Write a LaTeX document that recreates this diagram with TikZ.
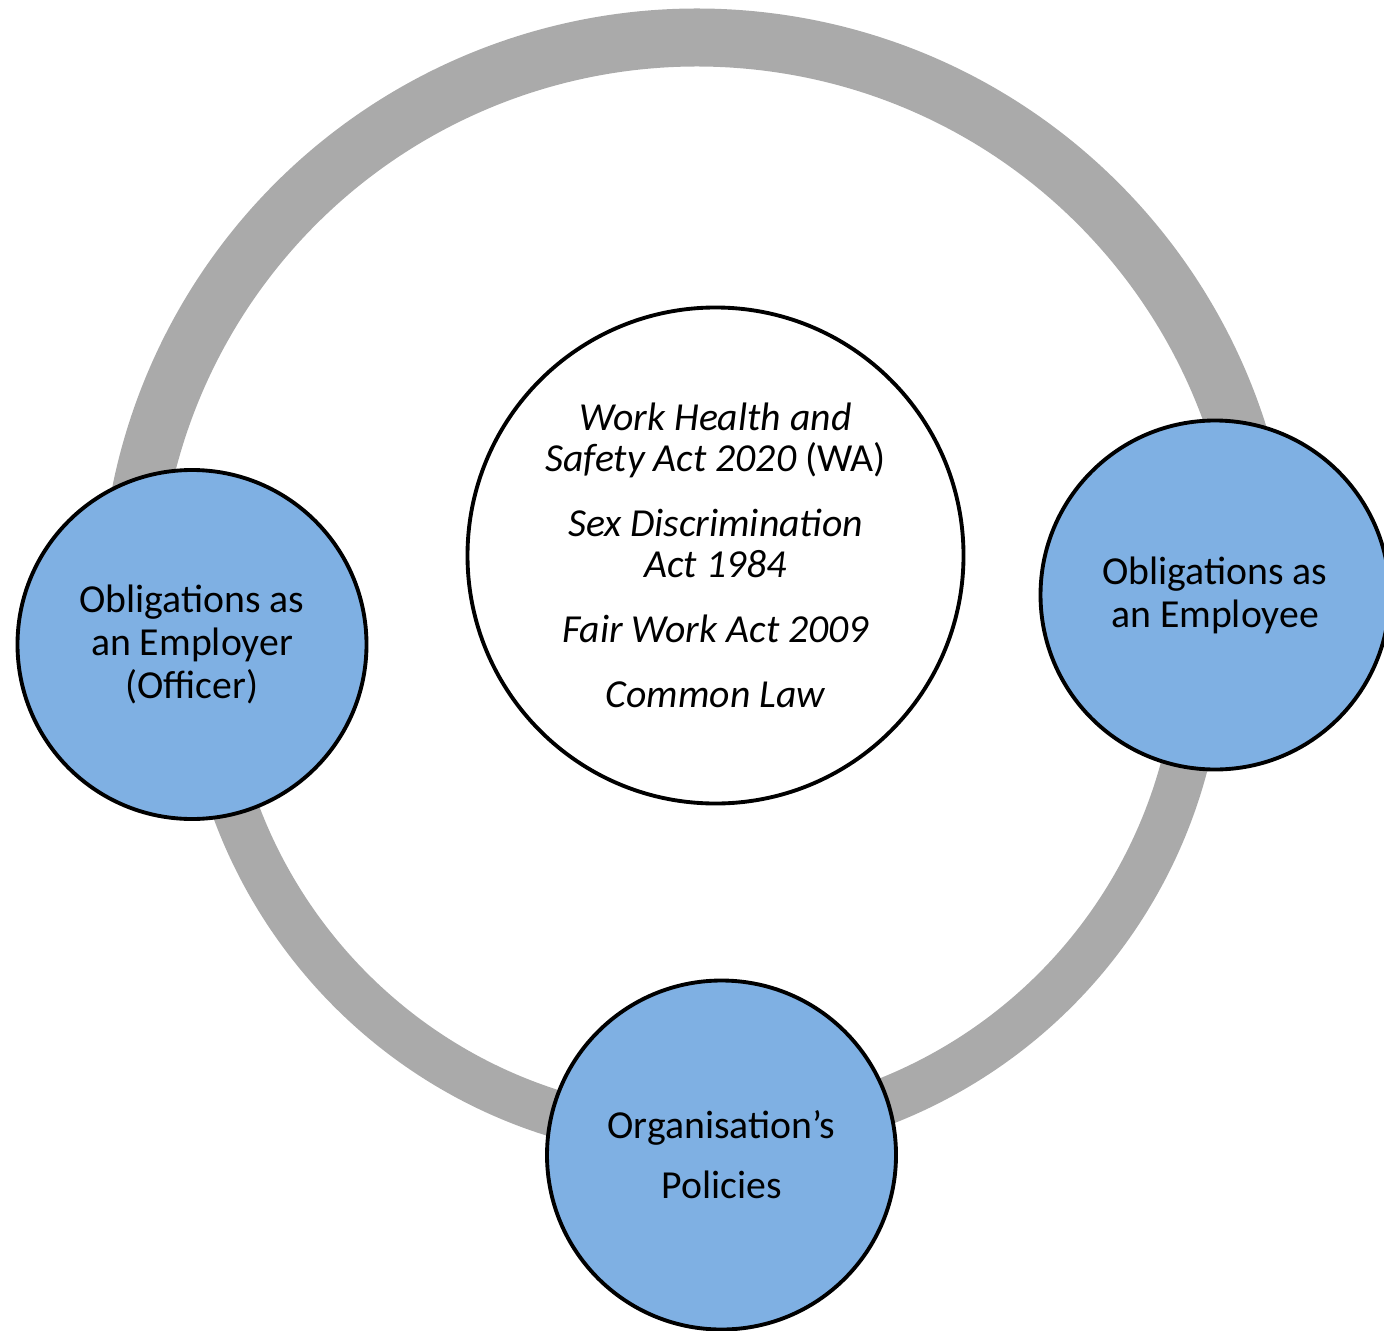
\documentclass[tikz,border=0pt]{standalone}
\usepackage{fontspec}
\setmainfont{Carlito}
\definecolor{ringgray}{RGB}{170,170,170}
\definecolor{dutyblue}{RGB}{127,176,227}

\begin{document}
\begin{tikzpicture}[
    duty/.style={circle, draw=black, line width=1.1pt, fill=dutyblue,
      minimum size=3.49cm, inner sep=0pt, align=center,
      font=\fontsize{11.3pt}{12.2pt}\selectfont},
    law/.style={circle, draw=black, line width=1.1pt, fill=white,
      minimum size=4.96cm, inner sep=0pt, align=center,
      font=\fontsize{11.3pt}{11.66pt}\selectfont\itshape}]
  \useasboundingbox (0,0) rectangle (13.84,13.30);
  % grey ring, two arcs that meet under the blue circles
  \coordinate (upper) at (6.97,7.25);
  \coordinate (lower) at (7.03,6.92);
  \draw[ringgray, line width=0.58cm] ([shift={(-5:5.675)}]upper)
    arc[start angle=-5, end angle=190, radius=5.675];
  \draw[ringgray, line width=0.47cm] ([shift={(175:4.98)}]lower)
    arc[start angle=175, end angle=365, radius=4.98];
  % the acts in the middle
  \node[law] (acts) at (7.155,7.745) {Work Health and\\
    Safety Act 2020 {\upshape(WA)}\\[6.8pt]
    Sex Discrimination\\Act 1984\\[6.8pt]
    Fair Work Act 2009\\[6.8pt]
    Common Law};
  % the three obligations round the ring
  \node[duty] (employer) at (1.92,6.855) {Obligations as\\an Employer\\(Officer)};
  \node[duty] (employee) at (12.15,7.35) {Obligations as\\an Employee};
  \node[duty] (policies) at (7.215,1.75) {Organisation’s\\[4.8pt]Policies};
\end{tikzpicture}
\end{document}
